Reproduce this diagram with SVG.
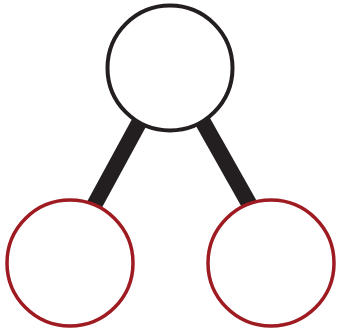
<svg xmlns="http://www.w3.org/2000/svg" width="338" height="333" viewBox="0 0 338 333">
<style>
.edge{stroke:#231f20;stroke-width:16;stroke-linecap:butt}
.root{fill:#fff;stroke:#231f20;stroke-width:4}
.leaf{fill:#fff;stroke:#9e1b22;stroke-width:3.5}
</style>
<rect width="338" height="333" fill="#fff"/>
<g id="connectors">
<line class="edge" x1="146" y1="110" x2="94.3" y2="205"/>
<line class="edge" x1="196.2" y1="110" x2="249.8" y2="205"/>
</g>
<g id="node-top"><circle class="root" cx="170" cy="68" r="62.5"/></g>
<g id="node-left"><circle class="leaf" cx="70" cy="263" r="63"/></g>
<g id="node-right"><circle class="leaf" cx="271" cy="263" r="63"/></g>
</svg>
